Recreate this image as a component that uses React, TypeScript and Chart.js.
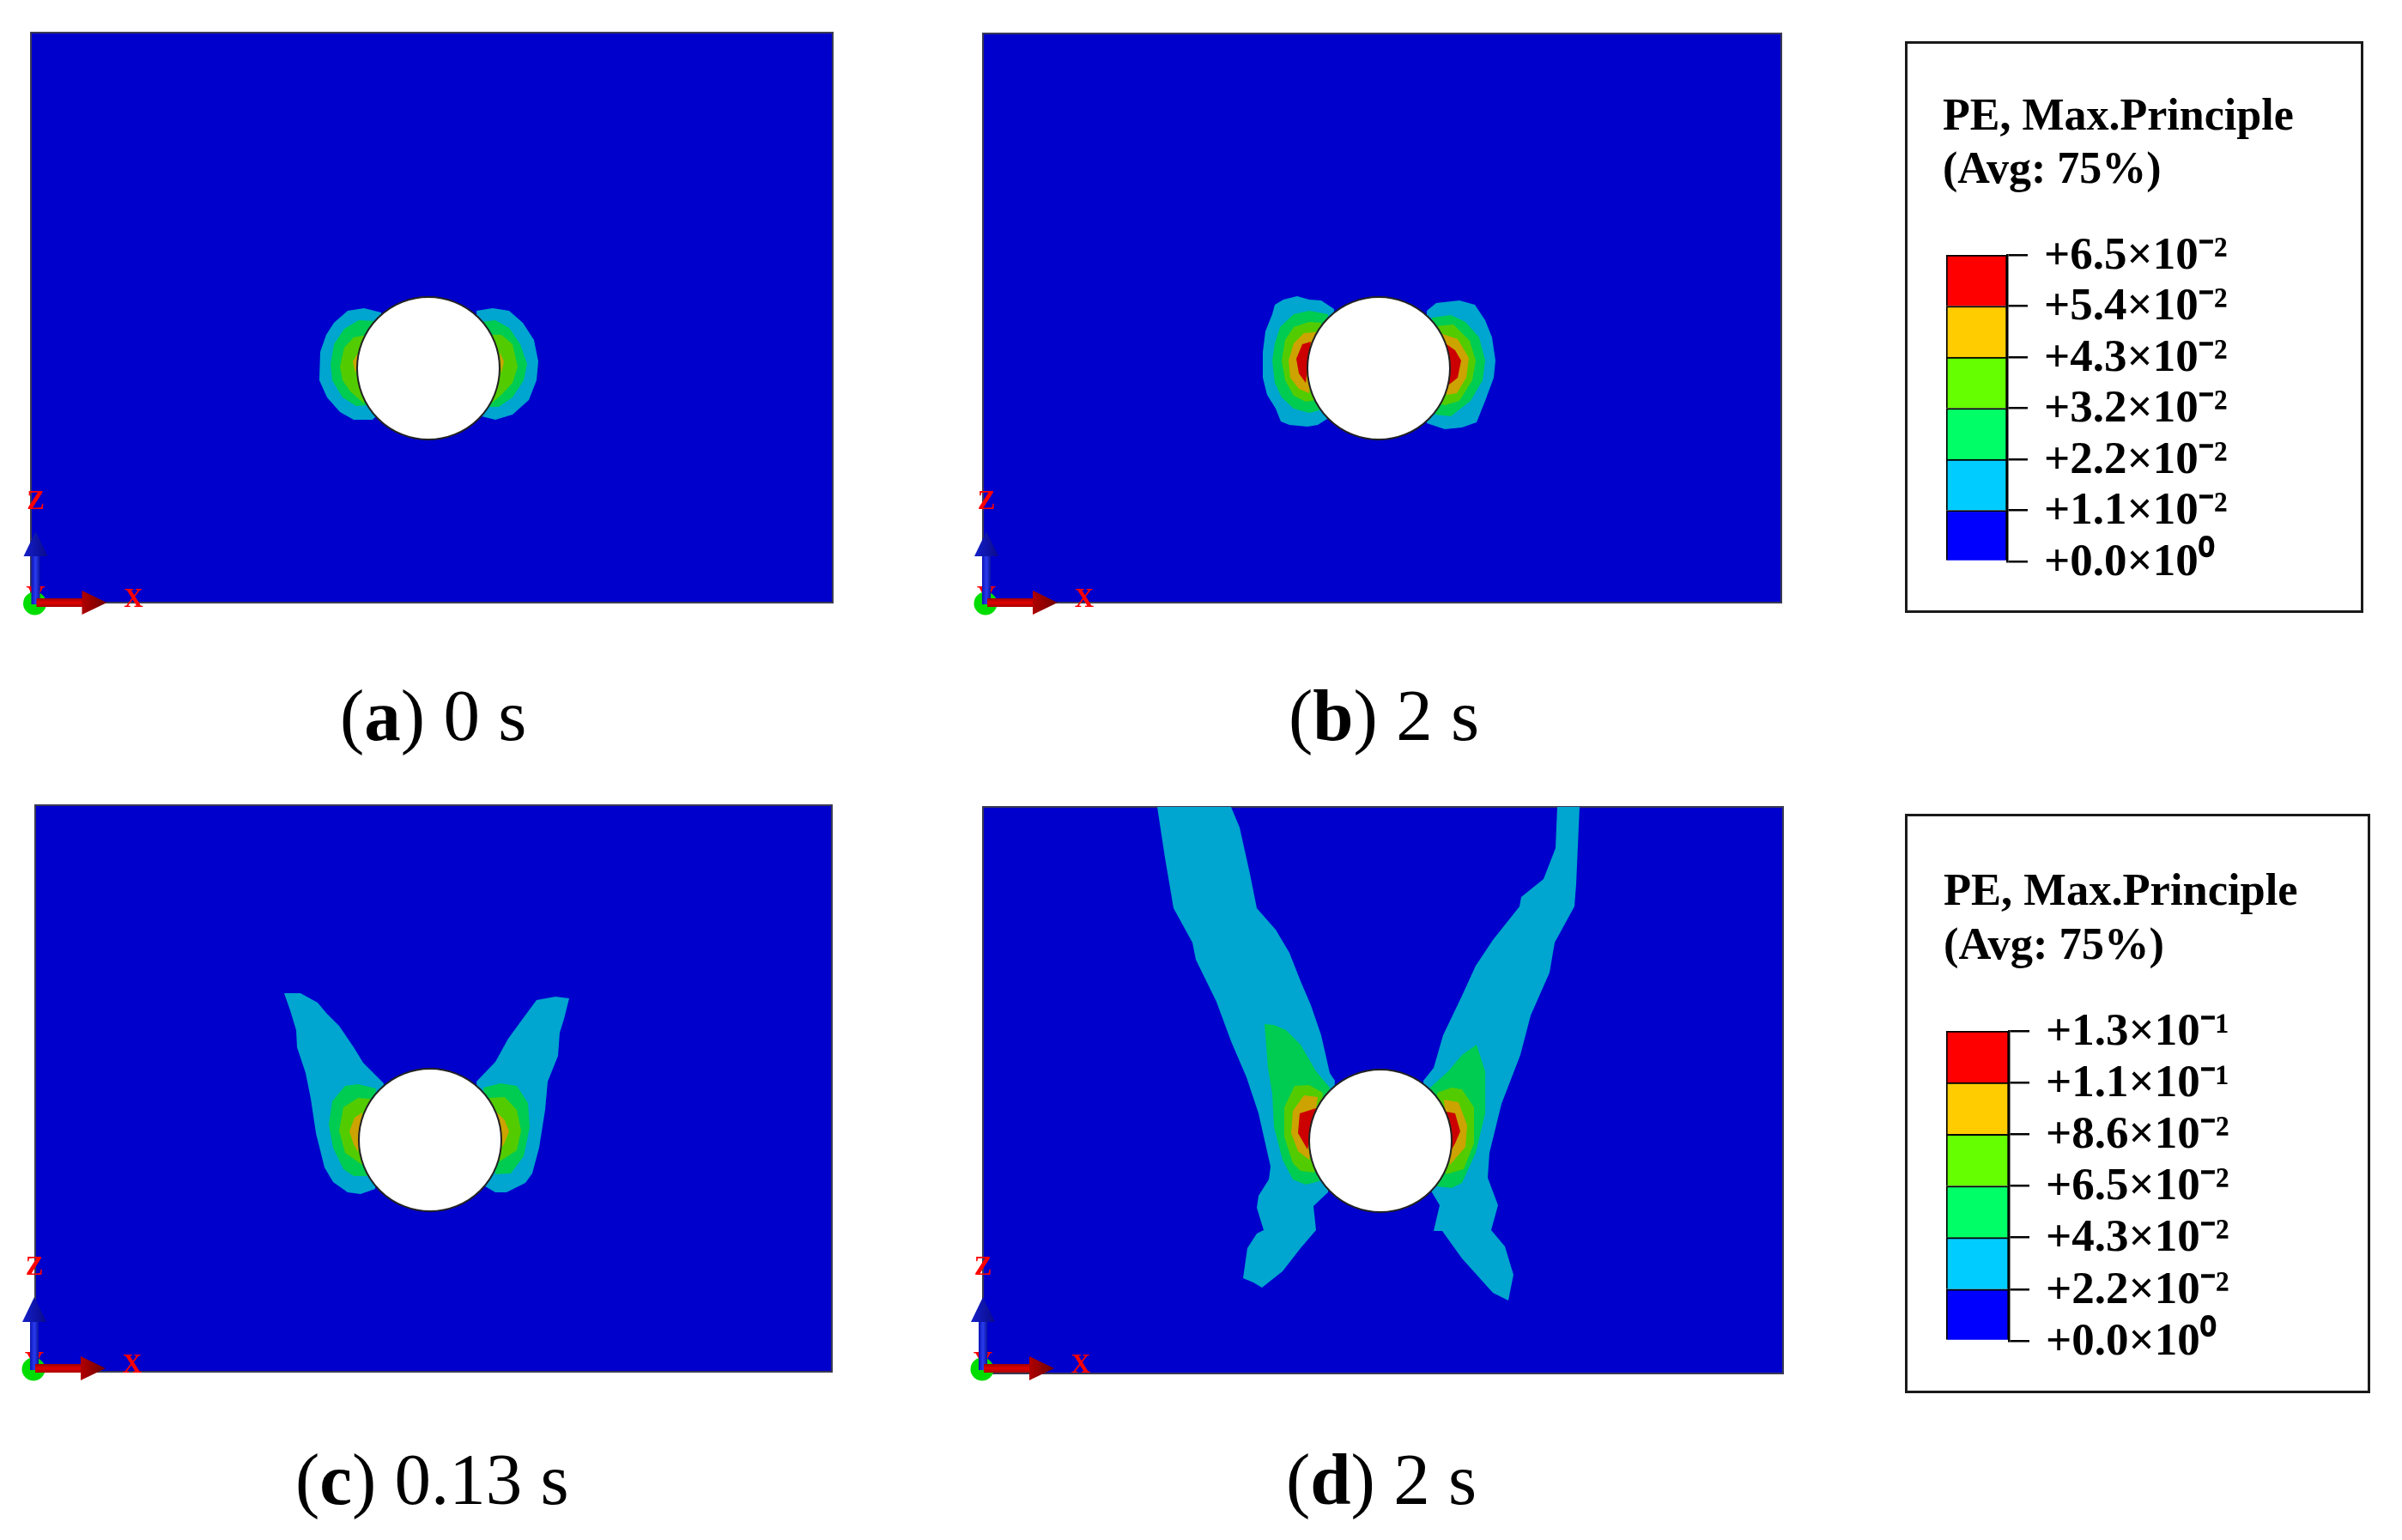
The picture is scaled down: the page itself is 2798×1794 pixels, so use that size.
import React, { useEffect, useRef } from "react";
import { Chart, registerables } from "chart.js";

Chart.register(...registerables);

/* ---------- data: plate extents and contour outlines, plate units, origin at the hole centre ---------- */
const plateAX = [-463, 471];
const plateAZ = [-273, 391];
const plateBX = [-461, 469];
const plateBZ = [-273, 390];
const plateCX = [-460, 468];
const plateCZ = [-270, 390];
const plateDX = [-463, 469];
const plateDZ = [-271, 389];
const holeCentre = [[0, 0]];

const triadA = [-457.5, -273];
const triadB = [-457, -273];
const triadC = [-461, -266];
const triadD = [-463, -265];

const aL1 = [[-55, 65], [-75, 70], [-94, 67], [-110, 53], [-119, 39], [-126, 19], [-127, -14], [-118, -34], [-103, -51], [-87, -60], [-65, -60], [-58, -53]];
const aR1 = [[56, 67], [75, 70], [94, 67], [110, 53], [123, 33], [128, 8], [126, -14], [117, -37], [98, -54], [78, -60], [62, -56]];
const aL2 = [[-62, 55], [-81, 56], [-98, 46], [-110, 28], [-114, 5], [-112, -14], [-100, -34], [-84, -44], [-70, -43]];
const aR2 = [[62, 54], [78, 56], [94, 47], [107, 28], [115, 5], [111, -14], [98, -34], [82, -45], [66, -45]];
const aL3 = [[-71, 39], [-87, 36], [-98, 24], [-103, 2], [-100, -14], [-91, -27], [-75, -41]];
const aR3 = [[69, 39], [85, 39], [98, 28], [104, 2], [98, -17], [85, -31], [72, -42]];
const aL4 = [[-81, 19], [-88, 8], [-85, -6]];
const aR4 = [[83, 19], [88, 8], [85, -6]];

const bL1 = [[-52, 69], [-67, 79], [-81, 80], [-95, 84], [-111, 80], [-121, 74], [-124, 63], [-132, 43], [-135, 19], [-135, -11], [-130, -31], [-120, -47], [-114, -62], [-104, -66], [-83, -68], [-71, -66], [-60, -59]];
const bR1 = [[56, 67], [67, 76], [94, 79], [112, 74], [124, 56], [132, 36], [136, 9], [134, -11], [124, -38], [114, -63], [97, -69], [77, -71], [56, -64]];
const bL2 = [[-59, 63], [-81, 67], [-99, 63], [-115, 48], [-121, 29], [-124, 9], [-121, -17], [-113, -34], [-99, -47], [-81, -52], [-69, -49]];
const bR2 = [[62, 59], [84, 62], [101, 54], [117, 36], [124, 9], [121, -14], [107, -38], [84, -56], [66, -54]];
const bL3 = [[-67, 53], [-81, 54], [-99, 48], [-109, 33], [-113, 9], [-109, -14], [-99, -32], [-85, -39], [-73, -37]];
const bR3 = [[67, 49], [87, 51], [106, 32], [113, 9], [109, -14], [94, -38], [77, -43], [69, -41]];
const bL4 = [[-73, 42], [-87, 41], [-99, 29], [-105, 9], [-103, -11], [-93, -24], [-81, -29]];
const bR4 = [[74, 40], [92, 34], [105, 12], [102, -11], [91, -29], [79, -31]];
const bL5 = [[-79, 31], [-89, 28], [-96, 11], [-93, -6], [-85, -17]];
const bR5 = [[79, 28], [89, 21], [96, 9], [92, -11], [82, -19]];

const cL1 = [[-54, 66], [-78, 90], [-89, 108], [-106, 133], [-121, 148], [-131, 160], [-151, 171], [-170, 171], [-163, 151], [-156, 128], [-155, 108], [-145, 78], [-139, 48], [-133, 8], [-123, -32], [-113, -49], [-96, -61], [-81, -63], [-64, -57]];
const cR1 = [[54, 68], [76, 91], [91, 118], [107, 140], [124, 163], [146, 167], [162, 165], [156, 141], [151, 125], [149, 98], [137, 68], [134, 35], [127, -9], [119, -39], [111, -50], [89, -61], [76, -61], [64, -54]];
const cL2 = [[-63, 60], [-84, 65], [-99, 63], [-114, 45], [-118, 18], [-113, -9], [-101, -34], [-89, -42], [-73, -42]];
const cR2 = [[62, 61], [82, 66], [101, 63], [114, 43], [116, 15], [109, -19], [94, -39], [76, -40]];
const cL3 = [[-69, 48], [-84, 49], [-101, 38], [-106, 11], [-99, -15], [-79, -29]];
const cR3 = [[69, 49], [87, 50], [101, 35], [106, 11], [101, -12], [81, -25]];
const cL4 = [[-79, 32], [-88, 26], [-94, 10], [-89, -5], [-84, -14]];
const cR4 = [[77, 33], [87, 23], [92, 10], [86, -5], [83, -9]];

const dL1 = [[-53, 70], [-59, 79], [-69, 123], [-81, 158], [-93, 186], [-106, 219], [-122, 246], [-144, 271], [-152, 311], [-164, 365], [-174, 389], [-260, 389], [-251, 330], [-241, 271], [-219, 231], [-215, 211], [-191, 162], [-174, 116], [-156, 74], [-142, 32], [-128, -30], [-130, -45], [-142, -64], [-144, -78], [-136, -104], [-144, -108], [-155, -125], [-160, -160], [-148, -165], [-138, -171], [-114, -152], [-93, -125], [-75, -104], [-78, -76], [-61, -60]];
const dR1 = [[50, 70], [62, 85], [73, 123], [95, 169], [111, 204], [131, 234], [162, 273], [164, 284], [190, 305], [204, 341], [206, 389], [232, 389], [228, 299], [226, 273], [203, 231], [197, 196], [175, 146], [163, 100], [141, 43], [127, -14], [125, -43], [137, -75], [129, -104], [145, -123], [155, -156], [149, -186], [131, -177], [95, -137], [72, -105], [62, -105], [69, -75], [60, -60]];
const dL2 = [[-59, 62], [-75, 81], [-93, 112], [-110, 129], [-124, 135], [-135, 136], [-131, 85], [-126, 55], [-124, 16], [-114, -22], [-102, -45], [-87, -51], [-71, -47]];
const dR2 = [[58, 62], [79, 81], [95, 100], [112, 112], [122, 81], [122, 32], [111, -14], [95, -49], [83, -55], [66, -53]];
const dL3 = [[-67, 56], [-83, 65], [-100, 64], [-112, 39], [-112, 5], [-102, -26], [-93, -35], [-77, -37]];
const dR3 = [[66, 56], [83, 62], [95, 60], [109, 39], [109, -3], [97, -33], [76, -39]];
const dL4 = [[-73, 51], [-89, 53], [-102, 35], [-104, 9], [-96, -12], [-83, -22]];
const dR4 = [[74, 48], [91, 45], [101, 18], [99, -7], [81, -28]];
const dL5 = [[-75, 38], [-94, 32], [-96, 9], [-85, -10]];
const dR5 = [[77, 34], [87, 32], [93, 11], [87, -3], [83, -10]];

const legendTopLabels = ["+0.0×10⁰", "+1.1×10⁻²", "+2.2×10⁻²", "+3.2×10⁻²", "+4.3×10⁻²", "+5.4×10⁻²", "+6.5×10⁻²"];
const legendBottomLabels = ["+0.0×10⁰", "+2.2×10⁻²", "+4.3×10⁻²", "+6.5×10⁻²", "+8.6×10⁻²", "+1.1×10⁻¹", "+1.3×10⁻¹"];
const legendBandSizes = [1, 1, 1, 1, 1, 1];
const legendTitleLines = ["PE, Max.Principle", "(Avg: 75%)"];

/* ---------- styles ---------- */
const plateColour = "#0000cc";
const contourColours = ["#00a5d0", "#00cc52", "#52cc00", "#cca300", "#cc0000"];
const legendColours = ["#0000ff", "#00ccff", "#00ff66", "#66ff00", "#ffcc00", "#ff0000"];
const SERIF = '"Liberation Serif", serif';
const MARGIN = 40;

type Pts = number[][];

const triadPlugin = {
  id: "triad",
  afterDraw(chart: any, _a: any, opts: any) {
    const ctx = chart.ctx;
    const ox = chart.scales.x.getPixelForValue(opts.origin[0]);
    const oy = chart.scales.y.getPixelForValue(opts.origin[1]);
    ctx.save();
    ctx.textAlign = "center";
    ctx.textBaseline = "middle";
    ctx.fillStyle = "#ff0000";
    ctx.font = `bold 31px ${SERIF}`;
    ctx.fillText("Y", ox, oy - 6);
    ctx.fillStyle = "#00dd00";
    ctx.beginPath();
    ctx.arc(ox - 1, oy + 1, 13.5, 0, Math.PI * 2);
    ctx.fill();
    // z arrow
    let g = ctx.createLinearGradient(ox - 5, 0, ox + 5, 0);
    g.addColorStop(0, "#0a14b4");
    g.addColorStop(0.5, "#2a3cf0");
    g.addColorStop(1, "#0a14a0");
    ctx.fillStyle = g;
    ctx.fillRect(ox - 5, oy - 56, 10, 58);
    g = ctx.createLinearGradient(ox - 14, 0, ox + 14, 0);
    g.addColorStop(0, "#1420c8");
    g.addColorStop(1, "#0a0a8c");
    ctx.fillStyle = g;
    ctx.beginPath();
    ctx.moveTo(ox, oy - 83);
    ctx.lineTo(ox + 14, oy - 54);
    ctx.lineTo(ox - 14, oy - 54);
    ctx.closePath();
    ctx.fill();
    // x arrow
    g = ctx.createLinearGradient(0, oy - 5, 0, oy + 5);
    g.addColorStop(0, "#a00000");
    g.addColorStop(0.5, "#e00000");
    g.addColorStop(1, "#a80000");
    ctx.fillStyle = g;
    ctx.fillRect(ox + 1, oy - 5, 55, 10);
    g = ctx.createLinearGradient(ox + 54, 0, ox + 83, 0);
    g.addColorStop(0, "#b00000");
    g.addColorStop(1, "#6e0000");
    ctx.fillStyle = g;
    ctx.beginPath();
    ctx.moveTo(ox + 54, oy - 14);
    ctx.lineTo(ox + 83, oy);
    ctx.lineTo(ox + 54, oy + 14);
    ctx.closePath();
    ctx.fill();
    ctx.fillStyle = "#ff0000";
    ctx.font = `bold 31px ${SERIF}`;
    ctx.fillText("Z", ox, oy - 117);
    ctx.fillText("X", ox + 114, oy - 3);
    ctx.restore();
  },
};

function PlatePanel({ hole, xr, zr, levels, triad }: { hole: number[]; xr: number[]; zr: number[]; levels: Pts[][]; triad: number[] }) {
  const ref = useRef<HTMLCanvasElement>(null);
  const left = hole[0] + xr[0] - MARGIN;
  const top = hole[1] - zr[1] - MARGIN;
  const width = xr[1] - xr[0] + 2 * MARGIN;
  const height = zr[1] - zr[0] + 2 * MARGIN;
  useEffect(() => {
    const toXY = (p: Pts) => p.map(([x, y]) => ({ x, y }));
    const datasets: any[] = [
      {
        data: toXY([[xr[0], zr[0]], [xr[1], zr[0]], [xr[1], zr[1]], [xr[0], zr[1]], [xr[0], zr[0]]]),
        backgroundColor: plateColour,
        borderColor: "#3a3a55",
        borderWidth: 2,
        fill: "shape",
        pointRadius: 0,
        clip: false,
        order: 100,
      },
    ];
    levels.forEach((polys, li) =>
      polys.forEach((poly) =>
        datasets.push({
          data: toXY([...poly, poly[0]]),
          backgroundColor: contourColours[li],
          borderWidth: 0,
          fill: "shape",
          pointRadius: 0,
          order: 50 - li,
        })
      )
    );
    datasets.push({
      data: toXY(holeCentre),
      showLine: false,
      pointRadius: 83,
      pointBackgroundColor: "#ffffff",
      pointBorderColor: "#222222",
      pointBorderWidth: 2,
      order: 0,
    });
    const chart = new Chart(ref.current!, {
      type: "line",
      data: { datasets },
      plugins: [triadPlugin],
      options: {
        responsive: false,
        animation: false,
        devicePixelRatio: 1,
        layout: { padding: MARGIN, autoPadding: false },
        events: [],
        scales: {
          x: { type: "linear", min: xr[0], max: xr[1], display: false },
          y: { type: "linear", min: zr[0], max: zr[1], display: false },
        },
        plugins: { legend: { display: false }, tooltip: { enabled: false }, title: { display: false }, triad: { origin: triad } } as any,
      },
    });
    return () => chart.destroy();
  }, []);
  return <canvas ref={ref} width={width} height={height} style={{ position: "absolute", left, top, width, height }} />;
}

function TextAt({ x, base, size, children, bold }: any) {
  return (
    <div
      style={{
        position: "absolute",
        left: x,
        top: base - 0.8375 * size,
        fontFamily: SERIF,
        fontSize: size,
        lineHeight: 1,
        fontWeight: bold ? "bold" : "normal",
        whiteSpace: "pre",
        color: "#000",
      }}
    >
      {children}
    </div>
  );
}

function LegendBox({ box, bar, labels, titleX, titleBases, titleSize, labelSize }: any) {
  const ref = useRef<HTMLCanvasElement>(null);
  const [bl, bt, br, bb] = box;
  const [al, at, ar, ab] = bar;
  const width = br - bl;
  const height = bb - bt;
  useEffect(() => {
    const chart = new Chart(ref.current!, {
      type: "bar",
      data: {
        labels: ["PE"],
        datasets: legendBandSizes.map((v, i) => ({
          data: [v],
          backgroundColor: legendColours[i],
          borderColor: "#000000",
          borderWidth: 2,
          barPercentage: 1,
          categoryPercentage: 1,
          stack: "bands",
        })),
      },
      options: {
        responsive: false,
        animation: false,
        devicePixelRatio: 1,
        events: [],
        layout: { padding: { left: al - bl, top: at - bt, bottom: bb - ab, right: 0 }, autoPadding: false },
        scales: {
          x: { display: false, stacked: true },
          y: {
            stacked: true,
            position: "right",
            min: 0,
            max: 6,
            afterFit: (s: any) => {
              s.width = br - ar;
            },
            grid: { drawOnChartArea: false, drawTicks: true, tickLength: 24, tickColor: "#000", tickWidth: 2.5, lineWidth: 2.5, color: "#000" },
            border: { display: true, color: "#000", width: 2.5 },
            ticks: {
              stepSize: 1,
              autoSkip: false,
              padding: 19,
              color: "#000",
              labelOffset: 2,
              font: { family: SERIF, size: labelSize, weight: "bold" },
              callback: (v: any) => labels[v],
            },
          },
        },
        plugins: { legend: { display: false }, tooltip: { enabled: false } },
      } as any,
    });
    return () => chart.destroy();
  }, []);
  return (
    <>
      <canvas ref={ref} width={width} height={height} style={{ position: "absolute", left: bl, top: bt, width, height }} />
      <div style={{ position: "absolute", left: bl, top: bt, width: width - 6, height: height - 6, border: "3px solid #1a1a1a", boxSizing: "content-box", pointerEvents: "none" }} />
      {legendTitleLines.map((t, i) => (
        <TextAt key={t} x={titleX} base={titleBases[i]} size={titleSize} bold>
          {t}
        </TextAt>
      ))}
    </>
  );
}

function Caption({ x, base, tag, rest }: any) {
  return (
    <TextAt x={x} base={base} size={85}>
      (<b>{tag}</b>) {rest}
    </TextAt>
  );
}

export default function App() {
  useEffect(() => {
    document.body.style.margin = "0";
    document.body.style.background = "#fff";
  }, []);
  return (
    <div style={{ position: "absolute", left: 0, top: 0, width: 2798, height: 1794, background: "#fff", overflow: "hidden" }}>
      <PlatePanel hole={[499, 429]} xr={plateAX} zr={plateAZ} triad={triadA} levels={[[aL1, aR1], [aL2, aR2], [aL3, aR3], [aL4, aR4]]} />
      <PlatePanel hole={[1606, 429]} xr={plateBX} zr={plateBZ} triad={triadB} levels={[[bL1, bR1], [bL2, bR2], [bL3, bR3], [bL4, bR4], [bL5, bR5]]} />
      <PlatePanel hole={[501, 1328]} xr={plateCX} zr={plateCZ} triad={triadC} levels={[[cL1, cR1], [cL2, cR2], [cL3, cR3], [cL4, cR4]]} />
      <PlatePanel hole={[1608, 1329]} xr={plateDX} zr={plateDZ} triad={triadD} levels={[[dL1, dR1], [dL2, dR2], [dL3, dR3], [dL4, dR4], [dL5, dR5]]} />
      <LegendBox box={[2219, 48, 2753, 714]} bar={[2267, 297, 2338, 654]} labels={legendTopLabels} titleX={2263} titleBases={[152, 214]} titleSize={52} labelSize={53} />
      <LegendBox box={[2219, 948, 2761, 1623]} bar={[2267, 1201, 2340, 1562]} labels={legendBottomLabels} titleX={2264} titleBases={[1054, 1117]} titleSize={52.5} labelSize={53} />
      <Caption x={396} base={862} tag="a" rest="0 s" />
      <Caption x={1501} base={862} tag="b" rest="2 s" />
      <Caption x={344} base={1752} tag="c" rest="0.13 s" />
      <Caption x={1498} base={1752} tag="d" rest="2 s" />
    </div>
  );
}
